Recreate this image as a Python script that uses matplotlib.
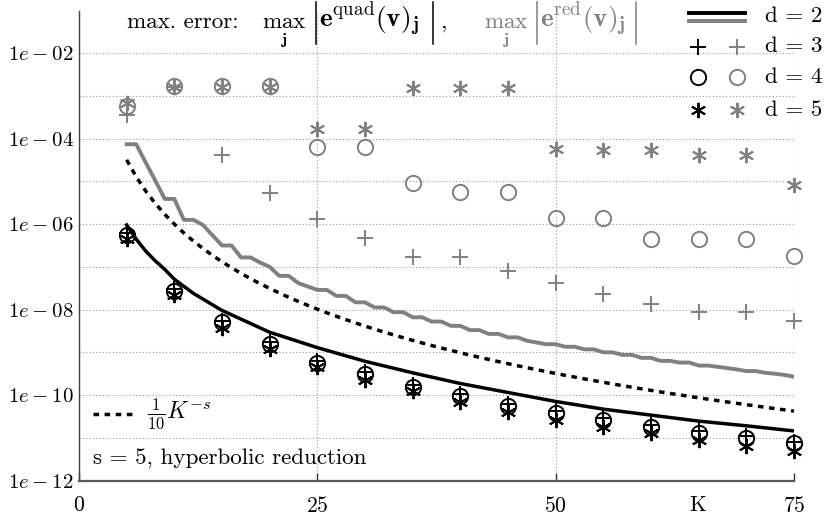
import matplotlib

matplotlib.use("Agg")
import numpy as np
from matplotlib import pyplot as plt
from matplotlib.lines import Line2D
from matplotlib.ticker import FixedLocator, NullFormatter

plt.rcParams["font.family"] = "cmr10"
plt.rcParams["mathtext.fontset"] = "cm"
plt.rcParams["axes.formatter.use_mathtext"] = True

# sample points of the markers
K_marks = [5, 10, 15, 20, 25, 30, 35, 40, 45, 50, 55, 60, 65, 70, 75]

# quadrature errors (black), log10 of max error
quad_d3 = [-6.21, -7.51, -8.26, -8.76, -9.21, -9.47, -9.76, -9.98, -10.22, -10.37, -10.54, -10.70, -10.84, -10.97, -11.09]
quad_d4 = [-6.25, -7.56, -8.30, -8.80, -9.25, -9.51, -9.80, -10.02, -10.26, -10.41, -10.58, -10.74, -10.88, -11.01, -11.13]
quad_d5 = [-6.35, -7.65, -8.44, -8.93, -9.34, -9.64, -9.90, -10.16, -10.39, -10.58, -10.74, -10.89, -11.05, -11.19, -11.30]

# reduction errors (gray)
red_d3 = [-3.44, -2.80, -4.38, -5.27, -5.89, -6.33, -6.78, -6.78, -7.09, -7.38, -7.63, -7.87, -8.06, -8.06, -8.26]
red_d4 = [-3.23, -2.77, -2.77, -2.77, -4.19, -4.19, -5.03, -5.24, -5.24, -5.86, -5.86, -6.35, -6.35, -6.35, -6.74]
red_d5 = [-3.16, -2.80, -2.80, -2.80, -3.78, -3.78, -2.81, -2.81, -2.81, -4.25, -4.26, -4.26, -4.38, -4.38, -5.08]

# d = 2 curves
K_quad_line = [5, 6, 7, 8, 9, 10, 12, 15, 20, 25, 30, 35, 40, 45, 50, 55, 60, 65, 70, 75]
quad_d2 = [-6.02, -6.35, -6.63, -6.86, -7.06, -7.29, -7.62, -8.02, -8.53, -8.89, -9.21, -9.48, -9.73, -9.94, -10.15, -10.33, -10.47, -10.61, -10.72, -10.84]

K_red_line = list(range(5, 76))
red_d2 = [-4.13, -4.13, -4.56, -4.98, -5.41, -5.41, -5.90, -5.90, -6.02, -6.26,
          -6.50, -6.50, -6.78, -6.78, -6.90, -7.00, -7.21, -7.21, -7.38, -7.46,
          -7.54, -7.54, -7.68, -7.68, -7.83, -7.83, -7.95, -7.95, -8.06, -8.06,
          -8.18, -8.18, -8.28, -8.28, -8.38, -8.38, -8.48, -8.48, -8.57, -8.57,
          -8.65, -8.65, -8.73, -8.77, -8.81, -8.81, -8.87, -8.87, -8.93, -8.93,
          -9.00, -9.00, -9.06, -9.06, -9.13, -9.13, -9.20, -9.20, -9.24, -9.24,
          -9.31, -9.31, -9.34, -9.37, -9.40, -9.44, -9.44, -9.48, -9.50, -9.53,
          -9.57]

s = 5
K_ref = np.arange(5, 76)

W, H = 827, 519
FS = 16.6
fig = plt.figure(figsize=(W / 100, H / 100), dpi=100)
ax = fig.add_axes([79 / W, 1 - 480.5 / H, 715 / W, 470 / H])

GRAY = "#808080"
star = (6, 2, 0)
mk = dict(linestyle="none", markersize=11, markeredgewidth=1.4, clip_on=False)

ax.plot(K_red_line, 10.0 ** np.array(red_d2), color=GRAY, lw=2.8, zorder=3)
ax.plot(K_ref, 0.1 * K_ref.astype(float) ** (-s), color="black", lw=2.5,
        linestyle=(0, (1.6, 1.6)), zorder=3)
ax.plot(K_quad_line, 10.0 ** np.array(quad_d2), color="black", lw=2.5, zorder=3)

ax.plot(K_marks, 10.0 ** np.array(red_d3), marker="+", color=GRAY, **mk)
ax.plot(K_marks, 10.0 ** np.array(red_d4), marker="o", color=GRAY, mfc="none", **mk)
ax.plot(K_marks, 10.0 ** np.array(red_d5), marker=star, color=GRAY, **mk)
ax.plot(K_marks, 10.0 ** np.array(quad_d3), marker="+", color="black", **mk)
ax.plot(K_marks, 10.0 ** np.array(quad_d4), marker="o", color="black", mfc="none", **mk)
ax.plot(K_marks, 10.0 ** np.array(quad_d5), marker=star, color="black", **mk)

ax.set_yscale("log")
ax.set_xlim(0, 75)
ax.set_ylim(1e-12, 1e-1)

yt = [10.0 ** e for e in range(-12, -1, 2)]
ax.yaxis.set_major_locator(FixedLocator(yt))
ax.set_yticklabels([f"$1e-{-e:02d}$" for e in range(-12, -1, 2)])
ax.yaxis.set_minor_locator(FixedLocator([10.0 ** e for e in range(-11, -2, 2)]))
ax.yaxis.set_minor_formatter(NullFormatter())
ax.set_xticks([0, 25, 50, 75])
ax.set_xticklabels(["$0$", "$25$", "$50$", "$75$"])

ax.tick_params(axis="y", which="both", length=0, pad=4, labelsize=15)
ax.tick_params(axis="x", direction="in", length=6, width=1, color="0.2", pad=11, labelsize=15.5)
ax.grid(True, which="both", linestyle=(0, (1, 2)), color="0.6", lw=0.8)
ax.set_axisbelow(True)

for side in ("top", "right"):
    ax.spines[side].set_visible(False)
ax.spines["left"].set_color("0.25")
ax.spines["left"].set_linewidth(1.0)
ax.spines["bottom"].set_color("0.35")
ax.spines["bottom"].set_linewidth(1.6)


def fpt(x, y):
    return x / W, 1 - y / H


fig.text(*fpt(698, 505), "$\\mathrm{K}$", ha="center", va="center", fontsize=15.5)

# header: max. error: max_j |e^quad(v)_j|,  max_j |e^red(v)_j|
base = 28
fig.text(*fpt(127, base), "max. error:", fontsize=FS, va="baseline")
for x0, bars, body, tail, c in (
    (262, (316, 433), r"$\mathbf{e}^{\mathrm{quad}}(\mathbf{v})_{\mathbf{j}}$", 440, "black"),
    (484, (537, 636), r"$\mathbf{e}^{\mathrm{red}}(\mathbf{v})_{\mathbf{j}}$", None, GRAY),
):
    fig.text(*fpt(x0, base), r"$\max_{\mathbf{j}}$", fontsize=FS, va="baseline", color=c)
    fig.text(*fpt(bars[0] + 3, base), body, fontsize=19.6, va="baseline", color=c)
    for bx in bars:
        xs, ys = zip(fpt(bx, 2), fpt(bx, 44))
        fig.add_artist(Line2D(xs, ys, color=c, lw=1.1))
    if tail:
        fig.text(*fpt(tail, base), ",", fontsize=FS, va="baseline", color=c)

# legend, top right
for (y, c) in ((13.3, "black"), (20.7, GRAY)):
    xs, ys = zip(fpt(689, y), fpt(745, y))
    fig.add_artist(Line2D(xs, ys, color=c, lw=2.8))
fig.text(765 / W, 1 - 16 / H, "d = 2", fontsize=FS, va="center")
rows = [("+", 46.7, "d = 3"), ("o", 77, "d = 4"), (star, 110, "d = 5")]
for m, y, lab in rows:
    for x, c in ((697.7, "black"), (736.7, GRAY)):
        px, py = fpt(x, y)
        fig.add_artist(Line2D([px], [py], marker=m, color=c, mfc="none",
                              markersize=11, markeredgewidth=1.4))
    fig.text(765 / W, 1 - y / H, lab, fontsize=FS, va="center")

# reference curve key, bottom left
xs, ys = zip(fpt(93, 414), fpt(136, 414))
fig.add_artist(Line2D(xs, ys, color="black", lw=2.5, linestyle=(0, (1.6, 1.6))))
fig.text(*fpt(147, 414), r"$\frac{1}{10}K^{-s}$", fontsize=17, va="center")

ax.text(14 / 715, 0.025, "s = 5, hyperbolic reduction", transform=ax.transAxes,
        fontsize=FS, va="bottom")

fig.savefig("out.png", dpi=100)
